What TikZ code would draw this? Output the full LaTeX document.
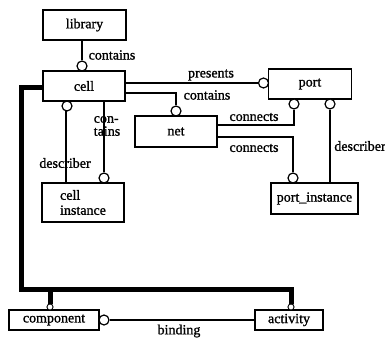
\documentclass[tikz,border=0pt]{standalone}
\usepackage{fontspec}
\setmainfont{Liberation Serif}[BoldFont={Liberation Serif},BoldFeatures={FakeBold=1.2}]
\begin{document}
\begin{tikzpicture}[x=1pt,y=-1pt,
  box/.style={draw,line width=1.1pt,inner sep=0pt,font=\fontsize{14}{15}\selectfont\bfseries},
  ring/.style={circle,draw,line width=1.2pt,fill=white,minimum size=10pt,inner sep=0pt},
  smallring/.style={circle,draw,line width=0.8pt,fill=white,minimum size=6pt,inner sep=0pt},
  lbl/.style={inner sep=0pt,font=\fontsize{14}{13}\selectfont\bfseries},
  conn/.style={line width=1.1pt},
  thick/.style={line width=5pt}]
\useasboundingbox (0,0) rectangle (385,339);
% boxes
\node[box,minimum width=83pt,minimum height=30pt] (lib) at (84.5,25) {library};
\node[box,minimum width=82pt,minimum height=30pt] (cell) at (84,86) {cell};
\node[box,minimum width=82pt,minimum height=31pt] (net) at (176,131.5) {net};
\node[box,minimum width=83pt,minimum height=30pt] (port) at (310,84) {port};
\node[box,minimum width=87pt,minimum height=31pt] (pinst) at (314.5,198.5) {port\_instance};
\node[box,minimum width=82pt,minimum height=39pt,align=left] (cinst) at (83,202.5) {cell\\instance};
\node[box,minimum width=90pt,minimum height=20pt] (comp) at (54,320) {component};
\node[box,minimum width=68pt,minimum height=20pt] (act) at (289,320) {activity};
% thick structure
\coordinate (tl) at (21.5,88);
\coordinate (bl) at (21.5,289);
\coordinate (br) at (291,289);
\coordinate (bm) at (50,289);
\node[smallring] (c9) at (50,307) {};
\node[smallring] (c10) at (291,307) {};
\draw[thick] (cell.west |- tl) -- (tl) -- (bl) -- (br) -- (c10.north);
\draw[thick] (bm) -- (c9.north);
\node[smallring] at (50,307) {};
\node[smallring] at (291,307) {};
% rings
\node[ring] (c1) at (82,66) {};
\node[ring] (c2) at (263.5,83) {};
\node[ring] (c3) at (176,111) {};
\node[ring] (c4) at (294,104) {};
\node[ring] (c5) at (293,178) {};
\node[ring] (c6) at (330,104) {};
\node[ring] (c7) at (67,106) {};
\node[ring] (c8) at (104,178) {};
\node[ring] (c11) at (104,320) {};
% connectors
\draw[conn] (c1.north) -- (c1.north |- lib.south);
\draw[conn] (c2.west) -- (c2.west -| cell.east);
\draw[conn] (cell.east |- 0,93) -| (c3.north);
\draw[conn] (net.east |- 0,125) -| (c4.south);
\draw[conn] (net.east |- 0,137) -| (c5.north);
\draw[conn] (c6.south) -- (c6.south |- pinst.north);
\draw[conn] (66,111) -- (66,111 |- cinst.north);
\draw[conn] (c8.north) -- (c8.north |- cell.south);
\draw[conn] (c11.east) -- (act.west);
% labels
\node[lbl] (l1) at (112,55) {contains};
\node[lbl] (l2) at (211,75) {presents};
\node[lbl] (l3) at (207,95) {contains};
\node[lbl] (l4) at (254,117) {connects};
\node[lbl] (l5) at (254,148) {connects};
\node[lbl] (l6) at (360,146) {describer};
\node[lbl] (l7) at (65,163) {describer};
\node[lbl,align=left] (l8) at (107,126) {con-\\tains};
\node[lbl] (l9) at (179,331) {binding};
\end{tikzpicture}
\end{document}
